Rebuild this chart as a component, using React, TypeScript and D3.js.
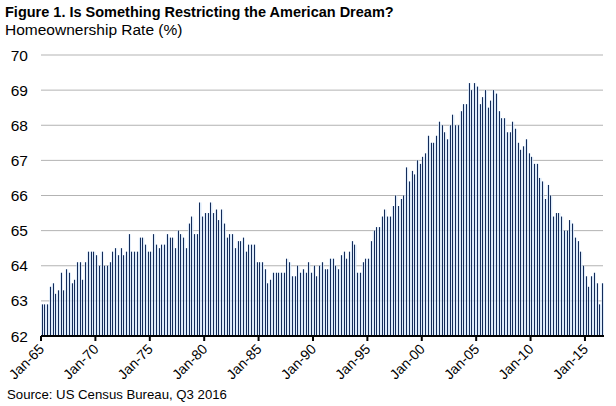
import React from "react";
import * as d3 from "d3";

const startYear = 1965;
const rates: number[] = [
  62.9, 62.9, 62.9, 63.4,
  63.5, 63.2, 63.3, 63.8,
  63.3, 63.9, 63.8, 63.5,
  63.6, 64.1, 64.1, 63.6,
  64.1, 64.4, 64.4, 64.4,
  64.3, 64.0, 64.4, 64.0,
  64.0, 64.1, 64.4, 64.5,
  64.3, 64.5, 64.3, 64.4,
  64.9, 64.4, 64.4, 64.4,
  64.8, 64.8, 64.6, 64.4,
  64.4, 64.9, 64.6, 64.5,
  64.6, 64.6, 64.9, 64.8,
  64.8, 64.5, 65.0, 64.9,
  64.8, 64.5, 65.2, 65.4,
  64.9, 64.9, 65.8, 65.4,
  65.5, 65.5, 65.8, 65.5,
  65.6, 65.3, 65.6, 65.2,
  64.8, 64.9, 64.9, 64.5,
  64.7, 64.7, 64.8, 64.4,
  64.6, 64.6, 64.6, 64.1,
  64.1, 64.1, 63.9, 63.5,
  63.6, 63.8, 63.8, 63.8,
  63.8, 63.8, 64.2, 64.1,
  63.7, 63.7, 64.0, 63.8,
  63.9, 63.8, 64.1, 63.8,
  64.0, 63.7, 64.0, 64.1,
  63.9, 63.9, 64.2, 64.2,
  64.0, 63.9, 64.3, 64.4,
  64.2, 64.4, 64.7, 64.6,
  63.8, 63.8, 64.1, 64.2,
  64.2, 64.7, 65.0, 65.1,
  65.1, 65.4, 65.6, 65.4,
  65.4, 65.7, 66.0, 65.7,
  65.9, 66.0, 66.8, 66.4,
  66.7, 66.6, 67.0, 66.9,
  67.1, 67.2, 67.7, 67.5,
  67.5, 67.7, 68.1, 68.0,
  67.8, 67.6, 68.0, 68.3,
  68.0, 68.0, 68.4, 68.6,
  68.6, 69.2, 69.0, 69.2,
  69.1, 68.6, 68.8, 69.0,
  68.5, 68.7, 69.0, 68.9,
  68.4, 68.2, 68.2, 67.8,
  67.8, 68.1, 67.9, 67.5,
  67.3, 67.4, 67.6, 67.2,
  67.1, 66.9, 66.9, 66.5,
  66.4, 65.9, 66.3, 66.0,
  65.4, 65.5, 65.5, 65.4,
  65.0, 65.0, 65.3, 65.2,
  64.8, 64.7, 64.4, 64.0,
  63.7, 63.4, 63.7, 63.8,
  63.5, 62.9, 63.5,
];
const xTickLabels = ["Jan-65", "Jan-70", "Jan-75", "Jan-80", "Jan-85", "Jan-90", "Jan-95", "Jan-00", "Jan-05", "Jan-10", "Jan-15"];
const yTicks = [62, 63, 64, 65, 66, 67, 68, 69, 70];
const title = "Figure 1. Is Something Restricting the American Dream?";
const subtitle = "Homeownership Rate (%)";
const source = "Source: US Census Bureau, Q3 2016";

const W = 616, H = 406;
const left = 41, right = 604, top = 55, bottom = 336;
const font = "'Liberation Sans', Arial, sans-serif";

export default function App() {
  const idx = rates.map((_, i) => i);
  const x = d3.scaleBand<number>().domain(idx).range([left, right]).padding(0);
  const y = d3.scaleLinear().domain([62, 70]).range([bottom, top]);
  const bw = x.bandwidth();
  const tickIdx = xTickLabels.map((_, k) => k * 20);

  return (
    <svg width={W} height={H} style={{ position: "absolute", left: 0, top: 0, background: "#fff" }} fontFamily={font}>
      <text x={5} y={17} fontSize={14.5} fontWeight="bold" fill="#000">{title}</text>
      <text x={5} y={35} fontSize={15.5} fill="#000">{subtitle}</text>
      {yTicks.map((t) => (
        <g key={t}>
          {t > 62 && <line x1={left} x2={right - 1} y1={y(t)} y2={y(t)} stroke="#b3b3b3" strokeWidth={1} />}
          <text x={28} y={y(t) + 5.5} fontSize={15.5} textAnchor="end" fill="#000">{t}</text>
        </g>
      ))}
      {rates.map((v, i) => (
        <g key={i}>
          <rect x={x(i)!} y={y(v)} width={bw} height={bottom - y(v)} fill="#d3e5f8" fillOpacity={0.8} />
          <rect x={Math.round(x(i)! + 0.7)} y={y(v)} width={1} height={bottom - y(v)} fill="#142c5a" />
        </g>
      ))}
      <line x1={left} x2={right} y1={bottom} y2={bottom} stroke="#000" strokeWidth={2} />
      {tickIdx.map((ti, k) => {
        const tx = x(ti)!;
        return (
          <g key={ti}>
            <line x1={tx} x2={tx} y1={bottom} y2={bottom + 5} stroke="#000" strokeWidth={2} />
            <text transform={`translate(${tx + 4},${bottom + 14}) rotate(-45)`} fontSize={14} textAnchor="end" fill="#000">{xTickLabels[k]}</text>
          </g>
        );
      })}
      <text x={7} y={399} fontSize={13.2} fill="#000">{source}</text>
    </svg>
  );
}
